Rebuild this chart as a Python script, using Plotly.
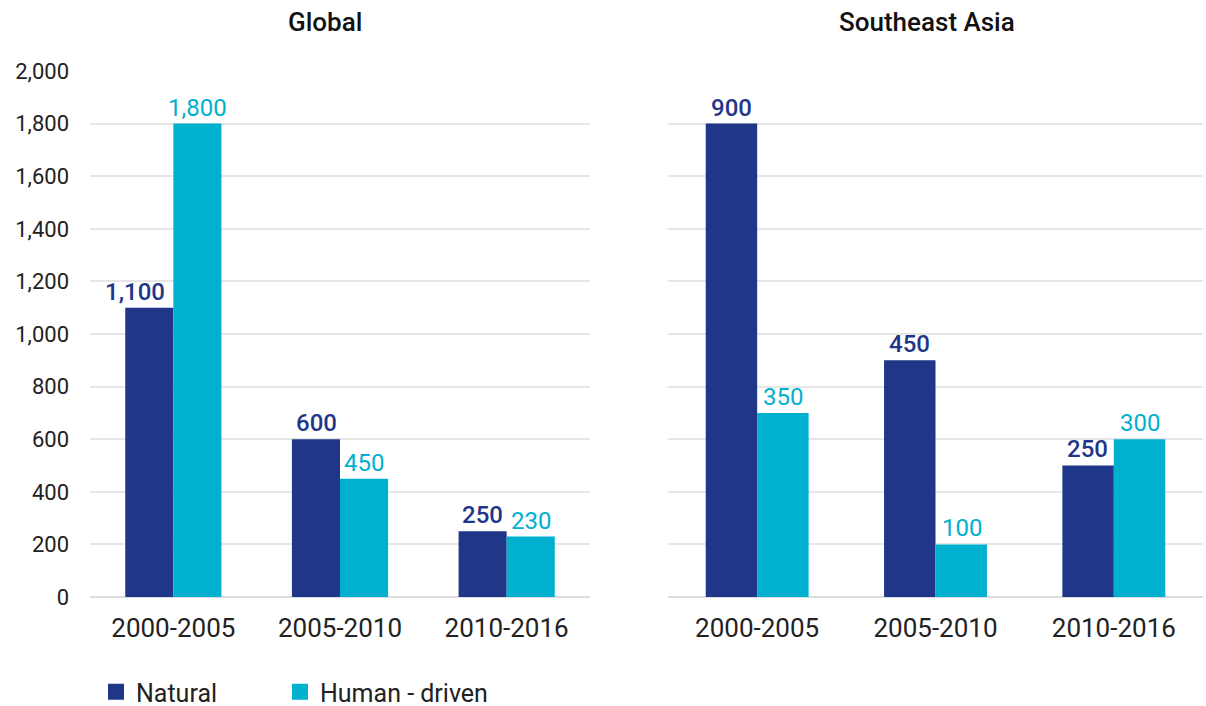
import plotly.graph_objects as go

periods = ["2000-2005", "2005-2010", "2010-2016"]
global_natural = [1100, 600, 250]
global_human = [1800, 450, 230]
sea_natural = [900, 450, 250]
sea_human = [350, 100, 300]
left_ticks = [0, 200, 400, 600, 800, 1000, 1200, 1400, 1600, 1800, 2000]

NAT = "#1F3689"
HUM = "#00B0CF"
FONT = "Roboto"
W, H = 1206, 706


def fmt(v):
    return f"{v:,}"


def bar(vals, color, xa, ya):
    return go.Bar(x=periods, y=vals, marker_color=color, marker_line_width=0,
                  xaxis=xa, yaxis=ya, showlegend=False, hoverinfo="skip")


fig = go.Figure()
fig.add_trace(bar(global_natural, NAT, "x", "y"))
fig.add_trace(bar(global_human, HUM, "x", "y"))
fig.add_trace(bar(sea_natural, NAT, "x2", "y2"))
fig.add_trace(bar(sea_human, HUM, "x2", "y2"))

# legend entries (one legend per entry so spacing matches)
fig.add_trace(go.Scatter(x=[None], y=[None], mode="markers", name="Natural", legend="legend",
                         marker=dict(symbol="square", size=20, color=NAT), xaxis="x", yaxis="y"))
fig.add_trace(go.Scatter(x=[None], y=[None], mode="markers", name="Human - driven", legend="legend2",
                         marker=dict(symbol="square", size=20, color=HUM), xaxis="x", yaxis="y"))

# value labels above bars (placed via data coordinates)
annotations = []
groups = [
    ("x", "y", global_natural, NAT, 500, -24, [-14, 0, 0]),
    ("x", "y", global_human, HUM, 400, 24, [0, 0, 0]),
    ("x2", "y2", sea_natural, NAT, 500, -26, [0, 0, 0]),
    ("x2", "y2", sea_human, HUM, 400, 26, [0, 0, 0]),
]
for xa, ya, vals, color, weight, off, nudge in groups:
    for p, v, n in zip(periods, vals, nudge):
        annotations.append(dict(
            x=p, y=v, xref=xa, yref=ya, text=fmt(v), showarrow=False,
            xanchor="center", yanchor="bottom", xshift=off + n, yshift=0,
            font=dict(size=24, color=color, family=FONT, weight=weight)))

annotations += [
    dict(text="Global", x=325 / W, y=1 - 22 / H, xref="paper", yref="paper",
         showarrow=False, font=dict(size=26, color="#111111", family=FONT, weight=500),
         xanchor="center", yanchor="middle"),
    dict(text="Southeast Asia", x=927 / W, y=1 - 22 / H, xref="paper", yref="paper",
         showarrow=False, font=dict(size=26, color="#111111", family=FONT, weight=500),
         xanchor="center", yanchor="middle"),
]

ydom = [1 - 597 / H, 1 - 71 / H]
grid = "#E6E6E6"
tickc = "#222222"
leg_common = dict(orientation="h", xanchor="left", yanchor="middle", y=1 - 692 / H,
                  font=dict(size=25, color=tickc), itemwidth=30, bgcolor="rgba(0,0,0,0)")

fig.update_layout(
    width=W, height=H,
    margin=dict(l=0, r=0, t=0, b=0, autoexpand=False),
    paper_bgcolor="white", plot_bgcolor="white",
    font=dict(family=FONT, color=tickc),
    barmode="group",
    bargap=0.423,
    bargroupgap=0,
    xaxis=dict(domain=[90 / W, 590 / W], anchor="y", showline=False, ticks="",
               tickfont=dict(size=26, color=tickc), showgrid=False, ticklabelstandoff=13,
               fixedrange=True, automargin=False),
    yaxis=dict(domain=ydom, anchor="x", range=[0, 2000], tickvals=left_ticks,
               ticktext=[fmt(v) for v in left_ticks], tickfont=dict(size=22, color=tickc),
               showgrid=True, gridcolor=grid, gridwidth=2, zeroline=True, zerolinecolor="#DCDCDC",
               zerolinewidth=2, ticklabelstandoff=20, fixedrange=True, automargin=False),
    xaxis2=dict(domain=[668 / W, 1203 / W], anchor="y2", showline=False, ticks="",
                tickfont=dict(size=26, color=tickc), showgrid=False, ticklabelstandoff=13,
                fixedrange=True, automargin=False),
    yaxis2=dict(domain=ydom, anchor="x2", range=[0, 1000], dtick=100, showticklabels=False,
                showgrid=True, gridcolor=grid, gridwidth=2, zeroline=True, zerolinecolor="#DCDCDC",
                zerolinewidth=2, fixedrange=True, automargin=False),
    legend=dict(x=96 / W, **leg_common),
    legend2=dict(x=280 / W, **leg_common),
    annotations=annotations,
)

fig.write_html("out.html")
